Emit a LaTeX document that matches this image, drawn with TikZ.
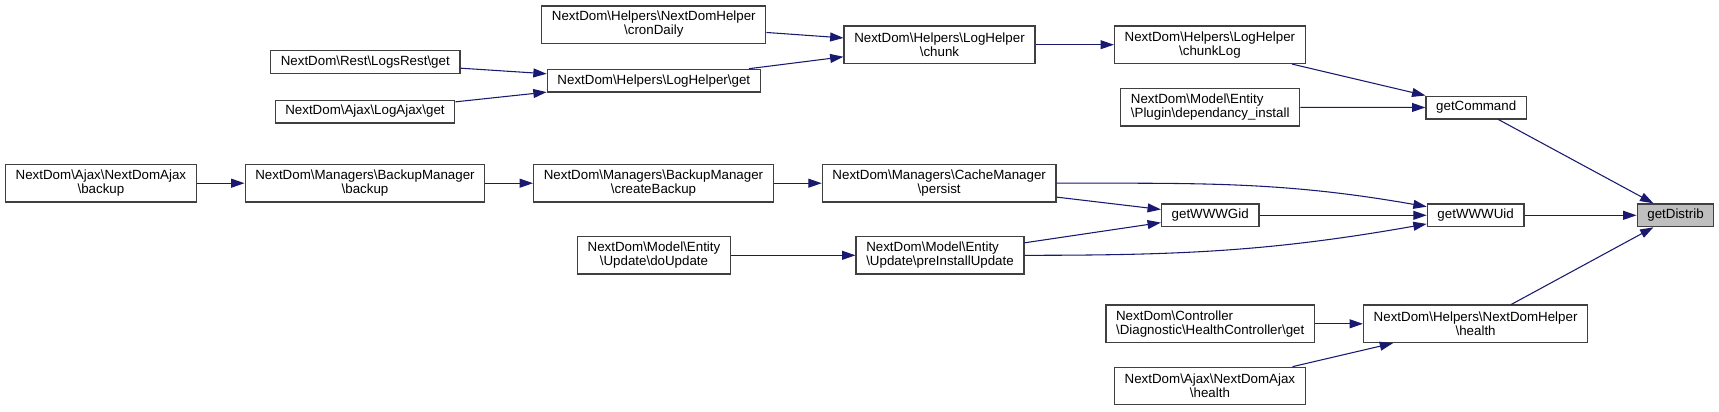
\documentclass[tikz,border=0pt]{standalone}
\usepackage{fontspec}
\setmainfont{Liberation Sans}
\usetikzlibrary{arrows.meta}
\definecolor{edge}{HTML}{191970}
\definecolor{frame}{HTML}{404040}
\definecolor{self}{HTML}{BFBFBF}
\newcommand{\nssep}{\textbackslash}

\begin{document}
\begin{tikzpicture}[x=0.75pt, y=-0.75pt,
  fn/.style={draw=frame, line width=1pt, fill=white, align=center,
    font=\fontsize{10}{10.5}\selectfont, inner xsep=7.6pt, inner ysep=3.6pt,
    minimum height=17pt},
  fnn/.style={fn, minimum height=28pt},
  call/.style={draw=edge, line width=0.8pt, -{Triangle[length=10pt, width=6.7pt]}}]
  \useasboundingbox (0,0) rectangle (1719,411);
  % callers, left to right
  \node[fnn] (ajaxbackup) at (100.9,183.2){NextDom\nssep Ajax\nssep NextDomAjax\\\nssep backup};
  \node[fn]  (logsrest) at (365.3,62){NextDom\nssep Rest\nssep LogsRest\nssep get};
  \node[fn]  (logajax) at (365,111.5){NextDom\nssep Ajax\nssep LogAjax\nssep get};
  \node[fnn] (bmbackup) at (365,183.2){NextDom\nssep Managers\nssep BackupManager\\\nssep backup};
  \node[fnn] (crondaily) at (653.8,24.5){NextDom\nssep Helpers\nssep NextDomHelper\\\nssep cronDaily};
  \node[fn]  (loghelperget) at (653.8,80.7){NextDom\nssep Helpers\nssep LogHelper\nssep get};
  \node[fnn] (createbackup) at (653.5,183.2){NextDom\nssep Managers\nssep BackupManager\\\nssep createBackup};
  \node[fnn] (doupdate) at (654,255.3){NextDom\nssep Model\nssep Entity\\\nssep Update\nssep doUpdate};
  \node[fnn] (chunk) at (939.5,44.7){NextDom\nssep Helpers\nssep LogHelper\\\nssep chunk};
  \node[fnn] (persist) at (939.2,183.2){NextDom\nssep Managers\nssep CacheManager\\\nssep persist};
  \node[fnn, align=left] (preinstall) at (940,255.3){NextDom\nssep Model\nssep Entity\\\nssep Update\nssep preInstallUpdate};
  \node[fnn] (chunklog) at (1209.9,44.7){NextDom\nssep Helpers\nssep LogHelper\\\nssep chunkLog};
  \node[fnn, align=left] (depinstall) at (1210.2,107.3){NextDom\nssep Model\nssep Entity\\\nssep Plugin\nssep dependancy\_install};
  \node[fn]  (getwwwgid) at (1210.2,215.3){getWWWGid};
  \node[fnn, align=left] (healthctrl) at (1210.2,323.8){NextDom\nssep Controller\\\nssep Diagnostic\nssep HealthController\nssep get};
  \node[fnn] (ajaxhealth) at (1209.9,386){NextDom\nssep Ajax\nssep NextDomAjax\\\nssep health};
  \node[fn]  (getcommand) at (1476.2,107.5){getCommand};
  \node[fn]  (getwwwuid) at (1475.6,215.3){getWWWUid};
  \node[fnn] (helperhealth) at (1475.6,323.8){NextDom\nssep Helpers\nssep NextDomHelper\\\nssep health};
  % the function itself
  \node[fn, fill=self] (getdistrib) at (1675.5,215.3){getDistrib};
  % calls
  \draw[call] (crondaily) -- (chunk);
  \draw[call] (loghelperget) -- (chunk);
  \draw[call] (logsrest) -- (loghelperget);
  \draw[call] (logajax) -- (loghelperget);
  \draw[call] (chunk) -- (chunklog);
  \draw[call] (chunklog) -- (getcommand);
  \draw[call] (depinstall) -- (getcommand);
  \draw[call] (getcommand) -- (getdistrib);
  \draw[call] (ajaxbackup) -- (bmbackup);
  \draw[call] (bmbackup) -- (createbackup);
  \draw[call] (createbackup) -- (persist);
  \draw[call] (persist.east) to[out=0, in=170] (getwwwuid);
  \draw[call] (persist) -- (getwwwgid);
  \draw[call] (getwwwgid) -- (getwwwuid);
  \draw[call] (preinstall) -- (getwwwgid);
  \draw[call] (preinstall.east) to[out=0, in=190] (getwwwuid);
  \draw[call] (doupdate) -- (preinstall);
  \draw[call] (getwwwuid) -- (getdistrib);
  \draw[call] (helperhealth) -- (getdistrib);
  \draw[call] (healthctrl) -- (helperhealth);
  \draw[call] (ajaxhealth) -- (helperhealth);
\end{tikzpicture}
\end{document}
